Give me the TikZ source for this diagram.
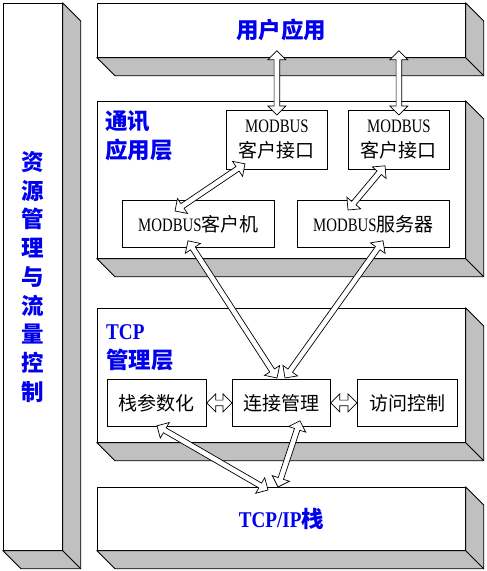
\documentclass[tikz,border=0pt]{standalone}
\usepackage{fontspec}
\setmainfont{Liberation Serif}
\newfontfamily\cjk{Noto Sans CJK SC}
\newfontfamily\narrowserif[FakeStretch=0.78]{Liberation Serif}
\newfontfamily\blueserif[FakeStretch=0.85]{Liberation Serif}
\usetikzlibrary{calc}

\definecolor{sidegray}{RGB}{192,192,192}
\definecolor{labelblue}{RGB}{0,0,238}

\tikzset{
  slab/.style={draw, fill=white, line width=0.8pt, inner sep=0pt, anchor=north west},
  slabside/.style={draw, fill=sidegray, line width=0.8pt, line join=miter},
  slab text/.style={text=labelblue, align=center,
    font=\cjk\bfseries\fontsize{22.5}{28.7}\selectfont},
  layer label/.style={text=labelblue, align=left, inner sep=0pt, anchor=base west,
    font=\cjk\bfseries\fontsize{22.5}{28.5}\selectfont},
  unit/.style={draw, fill=white, line width=0.8pt, inner sep=0pt, anchor=north west,
    align=center, font=\cjk\fontsize{19}{25}\selectfont},
  hollow/.style={draw, fill=white, line width=0.7pt, line join=miter}
}

% gray right side and bottom of a slab
\newcommand{\slabdepth}[1]{%
  \filldraw[slabside] (#1.north east) -- ++(18,18) -- ($(#1.south east)+(18,18)$)
    -- ($(#1.south west)+(18,18)$) -- (#1.south west) -- (#1.south east) -- cycle;
  \draw[line width=0.8pt] (#1.south east) -- ++(18,18);
}

% two-headed hollow arrow
\newcommand{\hollowarrow}[2]{%
  \draw[hollow] let \p1=(#1), \p2=(#2),
      \n1={atan2(\y2-\y1,\x2-\x1)}, \n2={veclen(\x2-\x1,\y2-\y1)} in
    (\p1) -- ($(\p1)+(\n1:9pt)+(\n1+90:9pt)$)
    -- ($(\p1)+(\n1:9pt)+(\n1+90:2.8pt)$)
    -- ($(\p1)+(\n1:\n2-9pt)+(\n1+90:2.8pt)$)
    -- ($(\p1)+(\n1:\n2-9pt)+(\n1+90:9pt)$)
    -- (\p2)
    -- ($(\p1)+(\n1:\n2-9pt)+(\n1-90:9pt)$)
    -- ($(\p1)+(\n1:\n2-9pt)+(\n1-90:2.8pt)$)
    -- ($(\p1)+(\n1:9pt)+(\n1-90:2.8pt)$)
    -- ($(\p1)+(\n1:9pt)+(\n1-90:9pt)$)
    -- cycle;
}

\begin{document}
\begin{tikzpicture}[x=1pt, y=-1pt]
  \useasboundingbox (0,0) rectangle (487,571);

  % slabs
  \node[slab, slab text, minimum width=59pt, minimum height=547pt] (ziyuan) at (3,3)
    {资\\源\\管\\理\\与\\流\\量\\控\\制};
  \slabdepth{ziyuan}
  \node[slab, slab text, minimum width=368pt, minimum height=54pt] (yhyy) at (97,3) {用户应用};
  \slabdepth{yhyy}
  \node[slab, minimum width=368pt, minimum height=157pt] (txyy) at (97,101) {};
  \slabdepth{txyy}
  \node[slab, minimum width=368pt, minimum height=134pt] (tcpgl) at (97,308) {};
  \slabdepth{tcpgl}
  \node[slab, slab text, minimum width=368pt, minimum height=63pt] (tcpip) at (97,487)
    {{\blueserif TCP/IP}栈};
  \slabdepth{tcpip}

  \node[layer label] (txlabel) at (105,158) {通讯\\应用层};
  \node[layer label] (tcplabel) at (106,368) {{\blueserif TCP}\\管理层};

  % units
  \node[unit, minimum width=101pt, minimum height=59pt] (jkL) at (226,110) {{\narrowserif MODBUS}\\客户接口};
  \node[unit, minimum width=101pt, minimum height=59pt] (jkR) at (348,110) {{\narrowserif MODBUS}\\客户接口};
  \node[unit, minimum width=152pt, minimum height=47pt] (khj) at (122,200) {{\narrowserif MODBUS}客户机};
  \node[unit, minimum width=152pt, minimum height=47pt] (fwq) at (297,200) {{\narrowserif MODBUS}服务器};
  \node[unit, minimum width=99pt, minimum height=47pt] (csh) at (107,379) {栈参数化};
  \node[unit, minimum width=98pt, minimum height=47pt] (ljgl) at (232,379) {连接管理};
  \node[unit, minimum width=100pt, minimum height=47pt] (fwkz) at (357,379) {访问控制};

  % arrows
  \hollowarrow{$(yhyy.south -| jkL.north)+(0,-7)$}{$(jkL.north)+(0,5)$}
  \hollowarrow{$(yhyy.south -| jkR.north)+(0,-7)$}{$(jkR.north)+(0,5)$}
  \hollowarrow{$(jkL.south west)+(19,-6)$}{$(khj.north west)+(53,11)$}
  \hollowarrow{$(jkR.south west)+(37,-4)$}{$(fwq.north west)+(51,10)$}
  \hollowarrow{$(khj.south west)+(66,-7)$}{$(ljgl.north west)+(45,-1)$}
  \hollowarrow{$(fwq.south west)+(86,-7)$}{$(ljgl.north west)+(53,-1)$}
  \hollowarrow{csh.east}{ljgl.west}
  \hollowarrow{ljgl.east}{fwkz.west}
  \hollowarrow{$(csh.south west)+(50,-1)$}{$(tcpip.north west)+(171,3)$}
  \hollowarrow{$(ljgl.south west)+(68,-6)$}{$(tcpip.north west)+(181,0)$}
\end{tikzpicture}
\end{document}
